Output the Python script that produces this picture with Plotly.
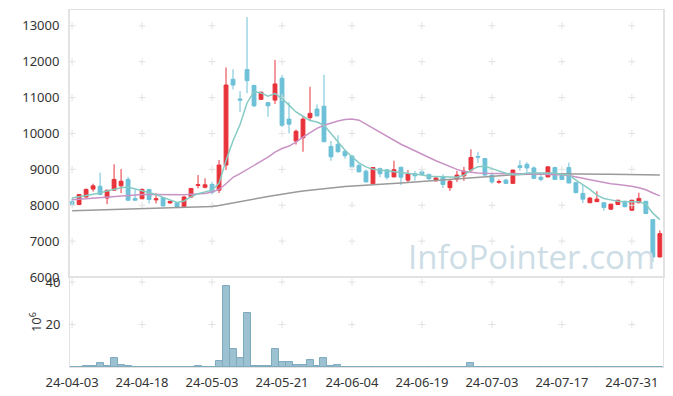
import pandas as pd
import plotly.graph_objects as go

# ---- data ----
holidays = ["2024-04-10", "2024-05-01", "2024-05-06", "2024-05-15", "2024-06-06"]
days = [d for d in pd.bdate_range("2024-04-03", "2024-08-06") if d.strftime("%Y-%m-%d") not in holidays]
dates = [d.strftime("%y-%m-%d") for d in days]

open_ = [8100, 8020, 8230, 8450, 8530, 8200, 8420, 8540, 8720, 8190,
         8180, 8440, 8150, 8215, 8065, 8065, 7960, 8230, 8550, 8500,
         8580, 8420, 9120, 11510, 10960, 11780, 11340, 10950, 10860, 10930,
         11540, 10400, 9790, 9880, 10440, 10680, 10760, 9640, 9700, 9500,
         9370, 9110, 8950, 8600, 9020, 8990, 8790, 9060, 8700, 8880,
         8930, 8860, 8680, 8790, 8490, 8730, 8820, 8980, 9360, 9300,
         8840, 8640, 8700, 8610, 9100, 9140, 9040, 8780, 8790, 9050,
         8860, 9050, 8630, 8330, 8070, 8100, 8070, 7890, 8020, 8110,
         7860, 8070, 8110, 7600, 6560]
high = [8200, 8300, 8470, 8600, 8910, 8430, 9140, 9010, 8790, 8440,
        8470, 8450, 8340, 8220, 8120, 8070, 8260, 8480, 8840, 8750,
        8650, 9260, 11840, 11790, 11180, 13240, 11350, 11160, 10870, 12050,
        11630, 10870, 10110, 10480, 11300, 10810, 11640, 9790, 9950, 9560,
        9400, 9160, 9000, 9060, 9050, 9010, 9240, 9070, 8980, 8950,
        8980, 8870, 8780, 8860, 8700, 8960, 9070, 9560, 9490, 9310,
        8860, 8720, 8740, 8990, 9250, 9200, 9080, 8840, 9080, 9070,
        8880, 9190, 8640, 8560, 8230, 8390, 8080, 8040, 8150, 8130,
        8150, 8350, 8120, 7610, 7300]
low = [7980, 8000, 8220, 8380, 8280, 8030, 8400, 8340, 8130, 8130,
       8170, 8050, 8050, 7970, 8040, 7920, 7930, 8200, 8470, 8470,
       8300, 8340, 8980, 11230, 10600, 11120, 10740, 10940, 10460, 10820,
       10180, 10000, 9690, 9490, 10370, 10470, 9760, 9240, 9470, 9300,
       9060, 8920, 8640, 8590, 8780, 8710, 8780, 8560, 8630, 8690,
       8840, 8700, 8670, 8480, 8400, 8650, 8680, 8930, 9180, 8830,
       8600, 8600, 8600, 8600, 8960, 8930, 8740, 8670, 8780, 8700,
       8700, 8610, 8340, 8060, 8060, 8090, 7850, 7880, 8010, 7940,
       7850, 8060, 7760, 6420, 6550]
close = [8020, 8300, 8440, 8540, 8300, 8420, 8720, 8670, 8140, 8140,
         8440, 8160, 8180, 7980, 8110, 7940, 8230, 8470, 8570, 8570,
         8360, 9120, 11350, 11350, 10930, 11470, 10770, 11150, 10770, 11380,
         10230, 10260, 10060, 10400, 10560, 10490, 9770, 9350, 9490, 9380,
         9070, 8930, 8650, 9050, 8880, 8780, 8990, 8780, 8880, 8820,
         8860, 8740, 8760, 8580, 8670, 8840, 8950, 9330, 9340, 8840,
         8650, 8660, 8610, 8980, 9050, 9040, 8750, 8720, 9070, 8720,
         8720, 8620, 8350, 8170, 8200, 8170, 7940, 8030, 8140, 7960,
         8140, 8190, 7770, 6560, 7210]
ma5 = [8200, 8230, 8260, 8300, 8340, 8400, 8450, 8490, 8510, 8460,
       8400, 8350, 8300, 8220, 8140, 8080, 8120, 8240, 8320, 8370,
       8420, 8610, 9250, 9800, 10250, 10850, 11170, 11130, 11040, 11110,
       10980, 10790, 10600, 10480, 10360, 10320, 10230, 10000, 9770, 9530,
       9350, 9180, 9070, 9000, 8980, 8960, 8930, 8910, 8880, 8860,
       8840, 8810, 8800, 8790, 8780, 8780, 8840, 8980, 9070, 9090,
       9020, 8950, 8890, 8860, 8860, 8900, 8900, 8890, 8890, 8900,
       8860, 8850, 8700, 8580, 8440, 8280, 8190, 8150, 8110, 8095,
       8090, 8100, 8030, 7780, 7600]
ma20 = [8150, 8165, 8180, 8195, 8210, 8220, 8240, 8260, 8280, 8290,
        8300, 8300, 8300, 8300, 8290, 8280, 8290, 8310, 8320, 8330,
        8370, 8440, 8600, 8780, 8880, 8990, 9100, 9210, 9340, 9480,
        9580, 9650, 9760, 9900, 10030, 10140, 10230, 10300, 10350, 10390,
        10400, 10370, 10260, 10140, 10020, 9910, 9800, 9700, 9610, 9510,
        9430, 9330, 9240, 9160, 9070, 9000, 8940, 8910, 8900, 8890,
        8890, 8890, 8890, 8890, 8890, 8880, 8870, 8870, 8860, 8860,
        8850, 8830, 8800, 8750, 8710, 8670, 8630, 8600, 8580, 8560,
        8530, 8490, 8430, 8340, 8260]
ma60 = [7850, 7855, 7860, 7865, 7870, 7875, 7880, 7885, 7890, 7895,
        7900, 7905, 7910, 7915, 7920, 7925, 7930, 7940, 7945, 7955,
        7965, 7990, 8030, 8065, 8100, 8140, 8180, 8210, 8245, 8280,
        8310, 8340, 8370, 8395, 8420, 8445, 8470, 8490, 8505, 8520,
        8530, 8540, 8550, 8560, 8575, 8590, 8605, 8620, 8635, 8650,
        8670, 8690, 8700, 8710, 8720, 8730, 8745, 8760, 8775, 8790,
        8805, 8820, 8835, 8850, 8860, 8870, 8875, 8880, 8880, 8880,
        8875, 8875, 8870, 8870, 8870, 8865, 8865, 8865, 8860, 8860,
        8860, 8855, 8855, 8850, 8845]
volume = [0, 0, 0.3, 0.3, 1.7, 0.3, 4.1, 0.9, 0.6, 0.2,
          0.2, 0.2, 0.2, 0.2, 0, 0, 0.2, 0.2, 0.6, 0.2,
          0, 2.7, 38.1, 8.3, 4.1, 25.3, 0.6, 0.3, 0.6, 8.3,
          2.2, 2.2, 1.0, 1.0, 3.2, 0.6, 4.1, 0.6, 1.0, 0.2,
          0.2, 0.2, 0.2, 0.2, 0.2, 0.2, 0.2, 0.2, 0.2, 0,
          0.2, 0, 0, 0, 0.2, 0.2, 0.2, 1.7, 0.2, 0.2,
          0.2, 0, 0, 0, 0.2, 0.2, 0, 0, 0.2, 0,
          0, 0.2, 0, 0.2, 0, 0, 0.2, 0, 0, 0,
          0, 0, 0, 0.2, 0.2]
price_ticks = [6000, 7000, 8000, 9000, 10000, 11000, 12000, 13000]
volume_ticks = [20, 40]
x_ticks = dates[::10]

# ---- styles ----
RED = "#e8333b"
BLUE = "#6cc0d7"
GRID = "#e2e2e2"
FRAME = "#e3e3e3"
FONT = dict(family="Noto Sans, DejaVu Sans, sans-serif", size=13, color="#333333")

fig = go.Figure()

# grid crosses (drawn at tick intersections)
gx_main = [x for x in x_ticks for _ in price_ticks[1:]]
gy_main = [y for _ in x_ticks for y in price_ticks[1:]]
fig.add_trace(go.Scatter(x=gx_main, y=gy_main, mode="markers", xaxis="x", yaxis="y",
                         marker=dict(symbol="cross-thin", size=5, line=dict(color=GRID, width=1)),
                         hoverinfo="skip", showlegend=False))
gx_vol = [x for x in x_ticks for _ in volume_ticks]
gy_vol = [y for _ in x_ticks for y in volume_ticks]
fig.add_trace(go.Scatter(x=gx_vol, y=gy_vol, mode="markers", xaxis="x2", yaxis="y2",
                         marker=dict(symbol="cross-thin", size=5, line=dict(color=GRID, width=1)),
                         hoverinfo="skip", showlegend=False))

# moving averages
fig.add_trace(go.Scatter(x=dates, y=ma60, mode="lines", line=dict(color="#9a9a9a", width=1.5),
                         xaxis="x", yaxis="y", showlegend=False))
fig.add_trace(go.Scatter(x=dates, y=ma20, mode="lines", line=dict(color="#c992c5", width=1.5),
                         xaxis="x", yaxis="y", showlegend=False))
fig.add_trace(go.Scatter(x=dates, y=ma5, mode="lines", line=dict(color="#86cbc3", width=1.5),
                         xaxis="x", yaxis="y", showlegend=False))

# candles
fig.add_trace(go.Candlestick(x=dates, open=open_, high=high, low=low, close=close,
                             increasing=dict(line=dict(color=RED, width=1), fillcolor=RED),
                             decreasing=dict(line=dict(color=BLUE, width=1), fillcolor=BLUE),
                             xaxis="x", yaxis="y", showlegend=False))

# volume
fig.add_trace(go.Bar(x=dates, y=volume, xaxis="x2", yaxis="y2",
                     marker=dict(color="#9cc1d1", line=dict(color="#7eaabd", width=1)),
                     showlegend=False))

xr = [-0.3, 84.45]
# page body has an 8px offset, so margins are shifted to land the plot where the reference has it
fig.update_layout(
    width=673, height=396,
    margin=dict(l=62, r=18, t=2, b=37, autoexpand=False),
    paper_bgcolor="white", plot_bgcolor="white",
    font=FONT,
    bargap=0,
    boxgap=0.22,
    xaxis=dict(type="category", categoryorder="array", categoryarray=dates, automargin=False,
               domain=[0, 1], anchor="y", range=xr, showticklabels=False,
               showgrid=False, zeroline=False, showline=True, linecolor=FRAME, linewidth=1,
               mirror=True, rangeslider=dict(visible=False), tickvals=x_ticks, ticks=""),
    yaxis=dict(domain=[0.252, 1], anchor="x", range=[6000, 13440], tickvals=price_ticks,
               tickformat="d", automargin=False,
               showgrid=False, zeroline=False, showline=True, linecolor=FRAME, linewidth=2,
               mirror=True, ticks="outside", ticklen=6, tickcolor="rgba(0,0,0,0)"),
    xaxis2=dict(type="category", categoryorder="array", categoryarray=dates, automargin=False,
                domain=[0, 1], anchor="y2", range=xr, tickvals=x_ticks,
                showgrid=False, zeroline=False, showline=True, linecolor=FRAME, linewidth=1,
                mirror=True, ticks="outside", ticklen=3, tickcolor="rgba(0,0,0,0)", tickangle=0),
    yaxis2=dict(domain=[0, 0.252], anchor="x2", range=[0, 42.35], tickvals=volume_ticks,
                automargin=False,
                showgrid=False, zeroline=False, showline=True, linecolor=FRAME, linewidth=1,
                mirror=True, ticks="outside", ticklen=6, tickcolor="rgba(0,0,0,0)",
                title=dict(text="10<sup>6</sup>", standoff=0, font=FONT)),
    annotations=[dict(text="InfoPointer.com", xref="paper", yref="paper", x=0.99, y=0.31,
                      xanchor="right", yanchor="middle", showarrow=False,
                      font=dict(family="Open Sans, sans-serif", size=33, color="#cddde6"))],
)

fig.write_html("out.html")
